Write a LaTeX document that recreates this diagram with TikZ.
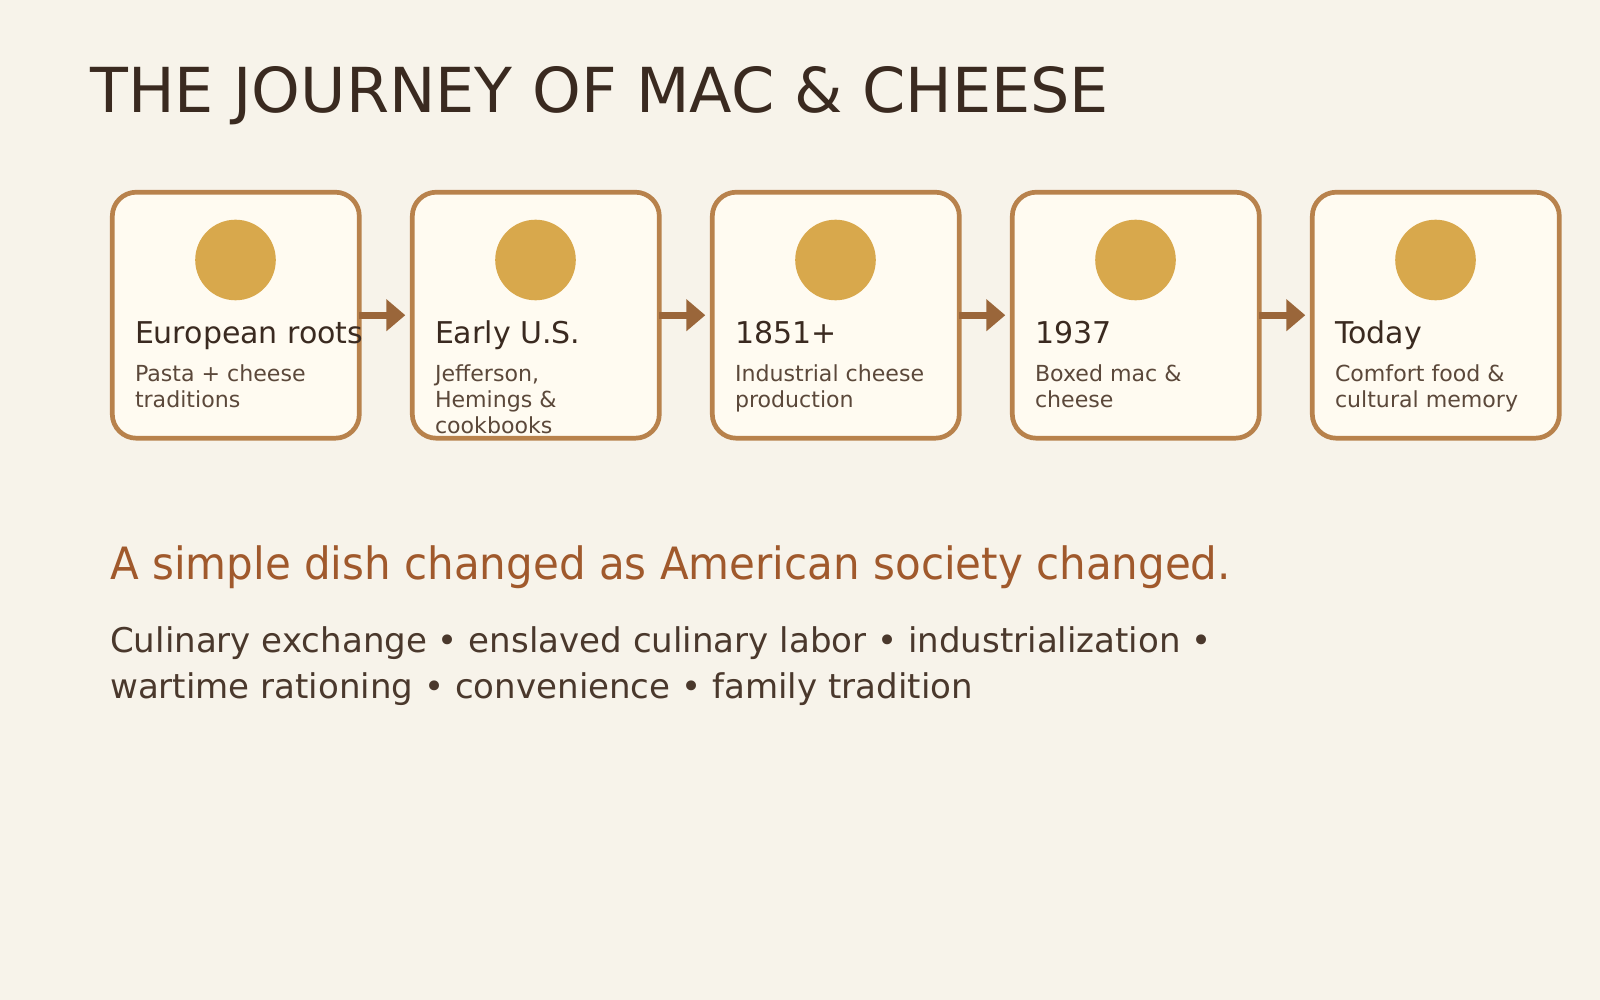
\documentclass[tikz,border=0pt]{standalone}
\usepackage{fontspec}
\setmainfont{DejaVu Sans}
\newfontfamily\orangefont[FakeStretch=0.944]{DejaVu Sans}
\usetikzlibrary{arrows.meta}
\definecolor{bgc}{HTML}{F7F3EA}
\definecolor{cardfill}{HTML}{FFFBF1}
\definecolor{cardline}{HTML}{B8824C}
\definecolor{dotc}{HTML}{D8A84C}
\definecolor{arrowc}{HTML}{9A663A}
\definecolor{titlec}{HTML}{3A2A20}
\definecolor{subc}{HTML}{5B483A}
\definecolor{orangec}{HTML}{A0592C}
\definecolor{bodyc}{HTML}{4A382C}
\tikzset{
  card/.style={draw=cardline, fill=cardfill, line width=4.7pt, rounded corners=24pt,
    minimum width=247pt, minimum height=246pt, inner sep=0pt, outer sep=0pt},
  dot/.style={circle, fill=dotc, minimum size=80.6pt, inner sep=0pt, outer sep=0pt},
  head/.style={anchor=base west, inner sep=0pt, text=titlec, font=\fontsize{30}{35}\selectfont},
  subline/.style={anchor=base west, inner sep=0pt, text=subc, font=\fontsize{22.1}{26}\selectfont},
  conn/.style={draw=arrowc, line width=7pt, -{Triangle[length=19pt, width=31pt]}, shorten >=7pt},
  bigtitle/.style={anchor=base west, inner sep=0pt, text=titlec, font=\fontsize{62}{70}\selectfont},
  orangeline/.style={anchor=base west, inner sep=0pt, text=orangec, font=\orangefont\fontsize{44.5}{50}\selectfont},
  bodyline/.style={anchor=base west, inner sep=0pt, text=bodyc, font=\fontsize{34.05}{40}\selectfont}
}
\begin{document}
\begin{tikzpicture}[x=1pt, y=-1pt]
\fill[bgc] (0,0) rectangle (1600,1000);
\useasboundingbox (0,0) rectangle (1600,1000);

\node[bigtitle] (title) at (90,113) {THE JOURNEY OF MAC \& CHEESE};

% cards
\node[card] (b1) at (235.8,315.2) {};
\node[card] (b2) at (535.8,315.2) {};
\node[card] (b3) at (835.8,315.2) {};
\node[card] (b4) at (1135.8,315.2) {};
\node[card] (b5) at (1435.8,315.2) {};

\node[dot] (c1) at (235.5,260) {};
\node[dot] (c2) at (535.5,260) {};
\node[dot] (c3) at (835.5,260) {};
\node[dot] (c4) at (1135.5,260) {};
\node[dot] (c5) at (1435.5,260) {};

% connectors
\draw[conn] (b1.east) -- (b2.west);
\draw[conn] (b2.east) -- (b3.west);
\draw[conn] (b3.east) -- (b4.west);
\draw[conn] (b4.east) -- (b5.west);

% card texts
\node[head] (h1) at (134.8,343) {European roots};
\node[subline] (s1a) at (134.8,381.3) {Pasta + cheese};
\node[subline] (s1b) at (134.8,407.5) {traditions};

\node[head] (h2) at (434.8,343) {Early U.S.};
\node[subline] (s2a) at (434.8,381.3) {Jefferson,};
\node[subline] (s2b) at (434.8,407.3) {Hemings \&};
\node[subline] (s2c) at (434.8,433.2) {cookbooks};

\node[head] (h3) at (734.8,343) {1851+};
\node[subline] (s3a) at (734.8,381.3) {Industrial cheese};
\node[subline] (s3b) at (734.8,407.5) {production};

\node[head] (h4) at (1034.8,343) {1937};
\node[subline] (s4a) at (1034.8,381.3) {Boxed mac \&};
\node[subline] (s4b) at (1034.8,407.5) {cheese};

\node[head] (h5) at (1334.8,343) {Today};
\node[subline] (s5a) at (1334.8,381.3) {Comfort food \&};
\node[subline] (s5b) at (1334.8,407.5) {cultural memory};

% bottom texts
\node[orangeline] (tagline) at (110,579.5) {A simple dish changed as American society changed.};
\node[bodyline] (body1) at (110,652) {Culinary exchange • enslaved culinary labor • industrialization •};
\node[bodyline] (body2) at (110,698.5) {wartime rationing • convenience • family tradition};
\end{tikzpicture}
\end{document}
